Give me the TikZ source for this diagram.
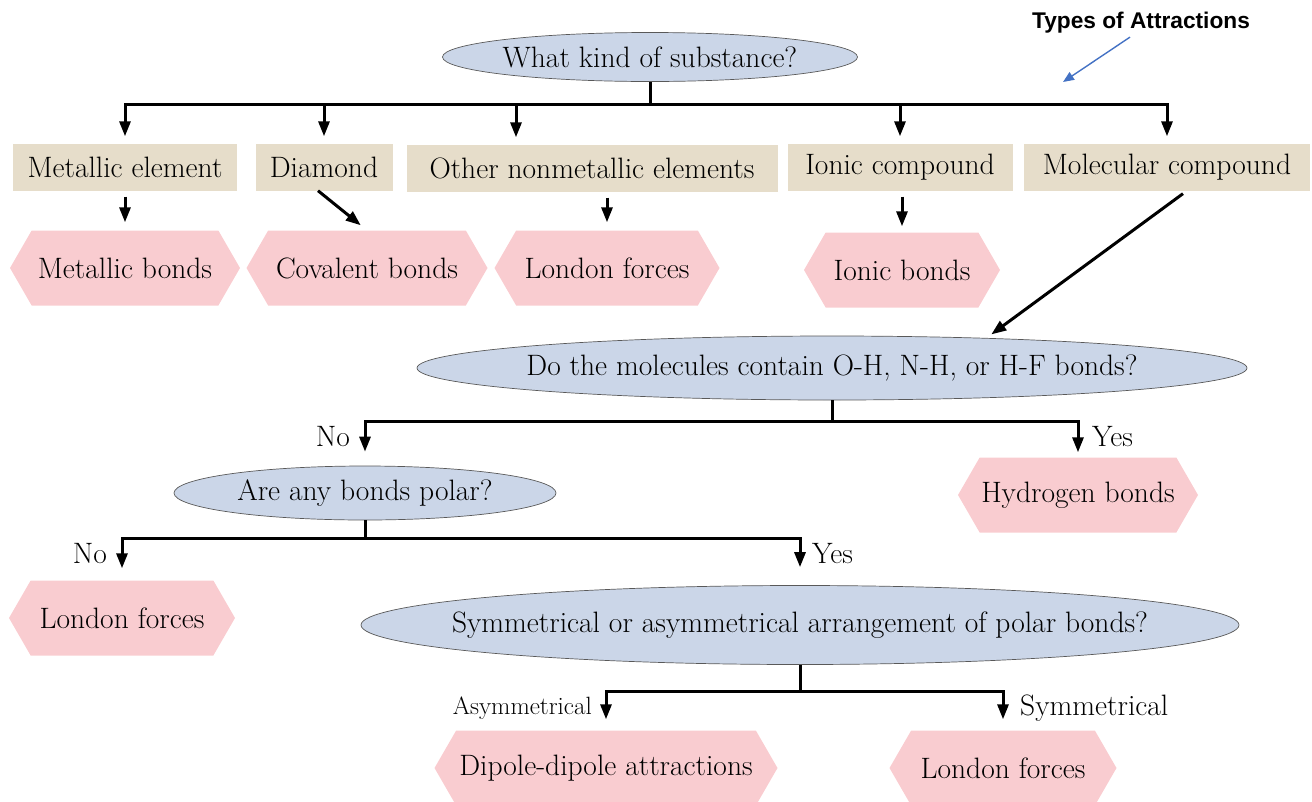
\documentclass[tikz,border=0pt]{standalone}
\usepackage{fontspec}
\newfontfamily\titlefont{Liberation Sans}
\usetikzlibrary{arrows.meta,shapes.geometric,shapes.symbols}
\definecolor{tanbox}{HTML}{E6DDCA}
\definecolor{pinkbox}{HTML}{F9CCD0}
\definecolor{bluegray}{HTML}{CBD6E8}
\definecolor{arrowblue}{HTML}{4472C4}
\newcommand{\asktext}[1]{\makebox[0pt]{#1}}
\tikzset{
  kind/.style={fill=tanbox, minimum height=47pt, inner sep=0pt},
  bond/.style={shape=signal, signal to=west and east, signal pointer angle=120,
    fill=pinkbox, minimum height=75pt, inner sep=0pt},
  ask/.style={ellipse, draw=black!65, line width=0.7pt, fill=bluegray, inner sep=0pt},
  arr/.style={line width=3pt, -{Triangle[length=15pt,width=11pt]}},
  bus/.style={line width=3pt},
  lbl/.style={inner sep=0pt}
}
\begin{document}
\begin{tikzpicture}[x=1pt, y=-1pt, font=\fontsize{29.5pt}{34pt}\selectfont]
\useasboundingbox (0,0) rectangle (1312,801);

\node[font=\titlefont\bfseries\fontsize{22.7pt}{26pt}\selectfont] (title) at (1141,23) {Types of Attractions};
\coordinate (ttip) at (1063,82);
\draw[arrowblue, line width=1.4pt, -{Triangle[length=11pt,width=9pt]}] ([xshift=-11pt]title.south) -- (ttip);

\node[ask, minimum width=415pt, minimum height=49pt] (q1) at (650,57) {\asktext{What kind of substance?}};

\node[kind, minimum width=224pt] (metal) at (125,167) {Metallic element};
\node[kind, minimum width=137pt] (diam) at (324,167) {Diamond};
\node[kind, minimum width=371pt] (other) at (592,168) {Other nonmetallic elements};
\node[kind, minimum width=225pt] (ionic) at (900,167) {Ionic compound};
\node[kind, minimum width=286pt] (molec) at (1167,167) {Molecular compound};

\node[bond, minimum width=230pt] (metalb) at (125,268) {Metallic bonds};
\node[bond, minimum width=241pt] (covb) at (367,268) {Covalent bonds};
\node[bond, minimum width=225pt] (londa) at (607,268) {London forces};
\node[bond, minimum width=196pt] (ionb) at (902,270) {Ionic bonds};

\coordinate (b1) at (650,104);
\draw[bus] (q1.south) -- (b1);
\foreach \n in {metal,diam,ionic,molec}{
\draw[arr, shorten >=7pt] (b1) -| (\n.north);
}
\draw[arr, shorten >=7pt] (b1) -| ([xshift=-76pt]other.north);

\draw[arr, shorten <=6pt, shorten >=8pt] (metal.south) -- (metalb.north);
\draw[arr, shorten >=8pt] ([xshift=-6pt]diam.south) -- (covb.north);
\draw[arr, shorten <=6pt, shorten >=8pt] (londa.north |- other.south) -- (londa.north);
\draw[arr, shorten <=6pt, shorten >=6pt] (ionb.north |- ionic.south) -- (ionb.north);

\node[ask, minimum width=830pt, minimum height=64pt] (q2) at (832,368) {\asktext{Do the molecules contain O-H, N-H, or H-F bonds?}};
\draw[arr, shorten <=5pt, shorten >=6pt] ([xshift=20pt]molec.south) -- (q2.11);

\node[ask, minimum width=382pt, minimum height=54pt] (q3) at (365,493) {\asktext{Are any bonds polar?}};
\node[bond, minimum width=240pt] (hyd) at (1078,495) {Hydrogen bonds};

\coordinate (b2) at (832,421);
\draw[bus] (q2.south) -- (b2);
\draw[arr, shorten >=14pt] (b2) -| (q3.north);
\draw[arr, shorten >=5pt] (b2) -| (hyd.north);
\node[lbl, anchor=east] (no1) at (350,437) {No};
\node[lbl, anchor=west] (yes1) at (1092,437) {Yes};

\node[bond, minimum width=226pt] (londb) at (122,618) {London forces};
\node[ask, minimum width=878pt, minimum height=79pt] (q4) at (800,625) {\asktext{Symmetrical or asymmetrical arrangement of polar bonds?}};

\coordinate (b3) at (365,538);
\draw[bus] (q3.south) -- (b3);
\draw[arr, shorten >=12pt] (b3) -| (londb.north);
\draw[arr, shorten >=18pt] (b3) -| (q4.north);
\node[lbl, anchor=east] (no2) at (107,554) {No};
\node[lbl, anchor=west] (yes2) at (812,554) {Yes};

\node[bond, minimum width=343pt] (dip) at (606,768) {Dipole-dipole attractions};
\node[bond, minimum width=227pt] (londc) at (1003,768) {London forces};

\coordinate (b4) at (800,691);
\draw[bus] (q4.south) -- (b4);
\draw[arr, shorten >=11pt] (b4) -| (dip.north);
\draw[arr, shorten >=11pt] (b4) -| (londc.north);
\node[lbl, anchor=east, font=\fontsize{25pt}{28pt}\selectfont] (asym) at (592,708) {Asymmetrical};
\node[lbl, anchor=west] (sym) at (1020,708) {Symmetrical};
\end{tikzpicture}
\end{document}
